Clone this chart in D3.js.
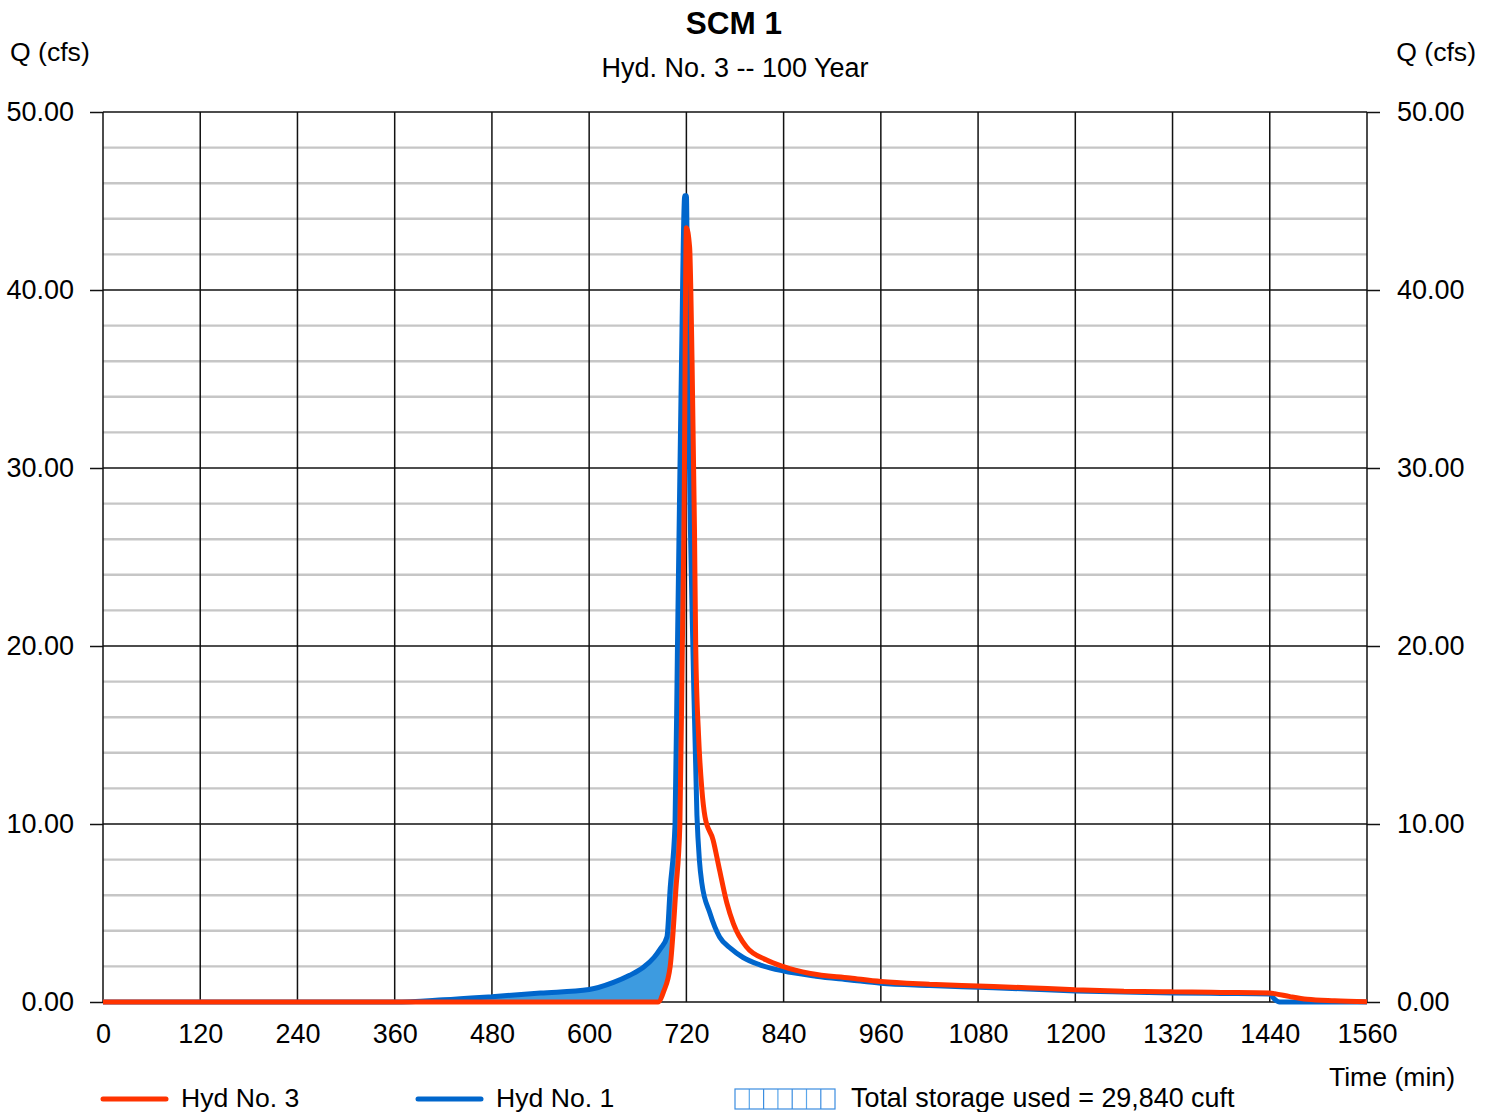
<!DOCTYPE html>
<html>
<head>
<meta charset="utf-8">
<script src="https://cdn.jsdelivr.net/npm/d3@7"></script>
<style>
  body { margin: 0; background: #fff; }
  svg { display: block; font-family: "Liberation Sans", Arial, sans-serif; }
</style>
</head>
<body>
<div id="chart"></div>
<script>
// DATA
var xTicks = [0, 120, 240, 360, 480, 600, 720, 840, 960, 1080, 1200, 1320, 1440, 1560];
var yMajor = [0, 10, 20, 30, 40, 50];
var yMinor = [2, 4, 6, 8, 12, 14, 16, 18, 22, 24, 26, 28, 32, 34, 36, 38, 42, 44, 46, 48];

// Hyd No. 1 (inflow)
var hyd1Time = [0, 360, 420, 480, 540, 600, 630, 650, 667, 680, 688, 696, 700, 706, 709, 711, 714, 718, 720,
                722, 725, 728, 733, 736, 739, 749, 761, 775, 790, 810, 839, 880, 922, 960, 1020, 1080,
                1140, 1200, 1260, 1320, 1380, 1440, 1445, 1452, 1560];
var hyd1Q = [0, 0, 0.12, 0.3, 0.5, 0.7, 1.1, 1.5, 1.95, 2.5, 3.0, 3.65, 6.4, 10, 20, 26.5, 36, 45.3, 45.3,
             36, 26.5, 20, 10.5, 8.0, 6.7, 5.0, 3.65, 3.0, 2.5, 2.1, 1.75, 1.45, 1.24, 1.05, 0.93, 0.83,
             0.73, 0.62, 0.56, 0.51, 0.48, 0.45, 0.2, 0, 0];

// Hyd No. 3 (outflow)
var hyd3Time = [0, 685, 692, 700, 707, 712, 715, 717, 720, 724, 727, 730, 731.5, 735, 739, 743, 753, 761,
                770, 778, 794, 819, 839, 873, 922, 960, 1020, 1080, 1140, 1200, 1260, 1320, 1380, 1440,
                1446, 1465, 1486, 1520, 1560];
var hyd3Q = [0, 0, 0.6, 2.0, 6.3, 10, 20, 26.5, 43.5, 42.4, 36, 26.5, 20, 15, 12, 10.4, 9.1, 7.4,
             5.55, 4.4, 3.1, 2.36, 2.0, 1.6, 1.35, 1.15, 1.0, 0.9, 0.8, 0.69, 0.61, 0.57, 0.54, 0.51,
             0.47, 0.3, 0.15, 0.07, 0.02];

var storageText = "Total storage used = 29,840 cuft";

// LAYOUT
var W = 1494, H = 1112;
var plotLeft = 103, plotRight = 1367, plotTop = 112, plotBottom = 1002;
var red = "#ff3300", blue = "#0066cc", fillBlue = "#3d9be0";

var svg = d3.select("#chart").append("svg")
    .attr("width", W)
    .attr("height", H);

var x = d3.scaleLinear().domain([0, 1560]).range([plotLeft, plotRight]);
var y = d3.scaleLinear().domain([0, 50]).range([plotBottom, plotTop]);

// Gridlines
svg.append("g").selectAll("line")
    .data(yMinor)
    .enter().append("line")
        .attr("x1", plotLeft).attr("x2", plotRight)
        .attr("y1", d => y(d)).attr("y2", d => y(d))
        .attr("stroke", "#c6c6c6")
        .attr("stroke-width", 2.4);

svg.append("g").selectAll("line")
    .data(xTicks)
    .enter().append("line")
        .attr("x1", d => x(d)).attr("x2", d => x(d))
        .attr("y1", plotTop).attr("y2", plotBottom)
        .attr("stroke", "#111")
        .attr("stroke-width", 1.5);

svg.append("g").selectAll("line")
    .data(yMajor)
    .enter().append("line")
        .attr("x1", plotLeft).attr("x2", plotRight)
        .attr("y1", d => y(d)).attr("y2", d => y(d))
        .attr("stroke", "#111")
        .attr("stroke-width", 1.5);

// Axes
var fmt = d3.format(".2f");
var styleAxis = function(g) {
    g.select(".domain").remove();
    g.selectAll(".tick line").attr("stroke", "#111").attr("stroke-width", 1.5);
    g.selectAll("text").attr("fill", "#000").style("font-size", "27px")
        .style("font-family", "'Liberation Sans', Arial, sans-serif");
};

svg.append("g")
    .attr("transform", "translate(" + plotLeft + ",0)")
    .call(d3.axisLeft(y).tickValues(yMajor).tickFormat(fmt).tickSize(13).tickPadding(16))
    .call(styleAxis);

svg.append("g")
    .attr("transform", "translate(" + plotRight + ",0)")
    .call(d3.axisRight(y).tickValues(yMajor).tickFormat(fmt).tickSize(13).tickPadding(17))
    .call(styleAxis);

svg.append("g")
    .attr("transform", "translate(0," + plotBottom + ")")
    .call(d3.axisBottom(x).tickValues(xTicks).tickFormat(d3.format("d")).tickSize(0).tickPadding(22))
    .call(styleAxis);

// Series
var pts1 = hyd1Time.map((t, i) => ({ t: t, q: hyd1Q[i] }));
var pts3 = hyd3Time.map((t, i) => ({ t: t, q: hyd3Q[i] }));

var line = d3.line()
    .x(d => x(d.t))
    .y(d => y(d.q))
    .curve(d3.curveMonotoneX);

var area = d3.area()
    .x(d => x(d.t))
    .y0(y(0))
    .y1(d => y(d.q))
    .curve(d3.curveMonotoneX);

// Storage = area under inflow minus area under outflow
var defs = svg.append("defs");
var mask = defs.append("mask").attr("id", "storage")
    .attr("maskUnits", "userSpaceOnUse")
    .attr("x", 0).attr("y", 0).attr("width", W).attr("height", H);
mask.append("rect").attr("x", 0).attr("y", 0).attr("width", W).attr("height", H).attr("fill", "black");
mask.append("path").attr("d", area(pts1)).attr("fill", "white");
mask.append("path").attr("d", area(pts3)).attr("fill", "black");

svg.append("rect")
    .attr("x", plotLeft).attr("y", plotTop)
    .attr("width", plotRight - plotLeft).attr("height", plotBottom - plotTop)
    .attr("fill", fillBlue)
    .attr("mask", "url(#storage)");

svg.append("path")
    .datum(pts1)
    .attr("fill", "none")
    .attr("stroke", blue)
    .attr("stroke-width", 5)
    .attr("stroke-linejoin", "bevel")
    .attr("d", line);

svg.append("path")
    .datum(pts3)
    .attr("fill", "none")
    .attr("stroke", red)
    .attr("stroke-width", 5)
    .attr("stroke-linejoin", "bevel")
    .attr("d", line);

// Titles
svg.append("text")
    .attr("x", 734).attr("y", 34)
    .attr("text-anchor", "middle")
    .style("font-size", "31.5px").style("font-weight", "bold")
    .text("SCM 1");

svg.append("text")
    .attr("x", 735).attr("y", 77)
    .attr("text-anchor", "middle")
    .style("font-size", "27px")
    .text("Hyd. No. 3 -- 100 Year");

svg.append("text")
    .attr("x", 10).attr("y", 61)
    .style("font-size", "26.6px")
    .text("Q (cfs)");

svg.append("text")
    .attr("x", 1476).attr("y", 61)
    .attr("text-anchor", "end")
    .style("font-size", "26.6px")
    .text("Q (cfs)");

svg.append("text")
    .attr("x", 1455).attr("y", 1086)
    .attr("text-anchor", "end")
    .style("font-size", "26.6px")
    .text("Time (min)");

// Legend
var legendY = 1098;
var legend = [
    { label: "Hyd No. 3", color: red, x: 103 },
    { label: "Hyd No. 1", color: blue, x: 418 }
];
legend.forEach(function(l) {
    svg.append("line")
        .attr("x1", l.x).attr("x2", l.x + 63)
        .attr("y1", legendY + 1).attr("y2", legendY + 1)
        .attr("stroke", l.color)
        .attr("stroke-width", 5)
        .attr("stroke-linecap", "round");
    svg.append("text")
        .attr("x", l.x + 78).attr("y", legendY + 9)
        .style("font-size", "26.6px")
        .text(l.label);
});

var box = svg.append("g");
for (var i = 1; i < 7; i++) {
    box.append("line")
        .attr("x1", 735 + i * 14.3).attr("x2", 735 + i * 14.3)
        .attr("y1", 1089).attr("y2", 1109)
        .attr("stroke", i % 2 ? "#5aa6ea" : "#3b8de0")
        .attr("stroke-width", 1.2);
}
box.append("rect")
    .attr("x", 735).attr("y", 1089)
    .attr("width", 100).attr("height", 20)
    .attr("fill", "none")
    .attr("stroke", "#3b8de0")
    .attr("stroke-width", 1.2);

svg.append("text")
    .attr("x", 851).attr("y", legendY + 9)
    .style("font-size", "26.9px")
    .text(storageText);
</script>
</body>
</html>
